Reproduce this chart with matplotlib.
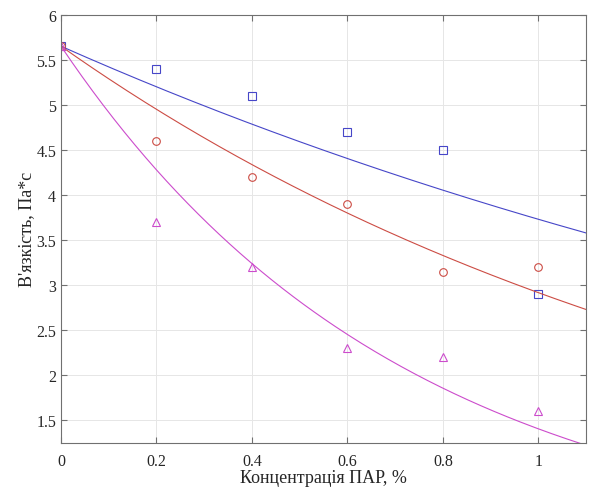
import numpy as np
import matplotlib.pyplot as plt

plt.rcParams['font.family'] = ['Liberation Serif', 'DejaVu Serif']

# Measured viscosity vs surfactant concentration
conc = [0.0, 0.2, 0.4, 0.6, 0.8, 1.0]
visc_blue = [5.65, 5.4, 5.1, 4.7, 4.5, 2.9]
visc_red = [5.65, 4.6, 4.2, 3.9, 3.15, 3.2]
visc_mag = [5.65, 3.7, 3.2, 2.3, 2.2, 1.6]

# Exponential fit coefficients y = a*exp(b*x)
fit_a = [5.65, 5.65, 5.65]
fit_b = [-0.415, -0.661, -1.39]

colors = ['#4646c8', '#cc4c44', '#cc4ccc']
markers = ['s', 'o', '^']
series = [visc_blue, visc_red, visc_mag]

fig = plt.figure(figsize=(5.95, 4.89), dpi=100)
ax = fig.add_axes([0.1025, 0.092, 0.8825, 0.876])

xf = np.linspace(0, 1.1, 200)
for ys, a, b, c, m in zip(series, fit_a, fit_b, colors, markers):
    ax.plot(xf, a * np.exp(b * xf), color=c, lw=0.8)
    ax.plot(conc, ys, linestyle='none', marker=m, markersize=5.5,
            markerfacecolor='none', markeredgecolor=c, markeredgewidth=0.8)

ax.set_xlim(0, 1.1)
ax.set_ylim(1.25, 6)
ax.set_xticks([0, 0.2, 0.4, 0.6, 0.8, 1])
ax.set_xticklabels(['0', '0.2', '0.4', '0.6', '0.8', '1'])
ax.set_yticks([1.5, 2, 2.5, 3, 3.5, 4, 4.5, 5, 5.5, 6])
ax.set_yticklabels(['1.5', '2', '2.5', '3', '3.5', '4', '4.5', '5', '5.5', '6'])
ax.grid(True, color='#e6e6e6', lw=0.7)
ax.set_axisbelow(True)
ax.tick_params(direction='in', top=True, right=True, length=4, width=0.8,
               colors='#707070', labelcolor='#262626', labelsize=11.5)
ax.tick_params(axis='x', pad=7)
for s in ax.spines.values():
    s.set_color('#707070')
    s.set_linewidth(0.8)

ax.set_xlabel('Концентрація ПАР, %', fontsize=13, color='#262626', labelpad=0.5)
ax.set_ylabel("В'язкість, Па*с", fontsize=13, color='#262626', labelpad=1)

fig.savefig('out.png', dpi=100)
